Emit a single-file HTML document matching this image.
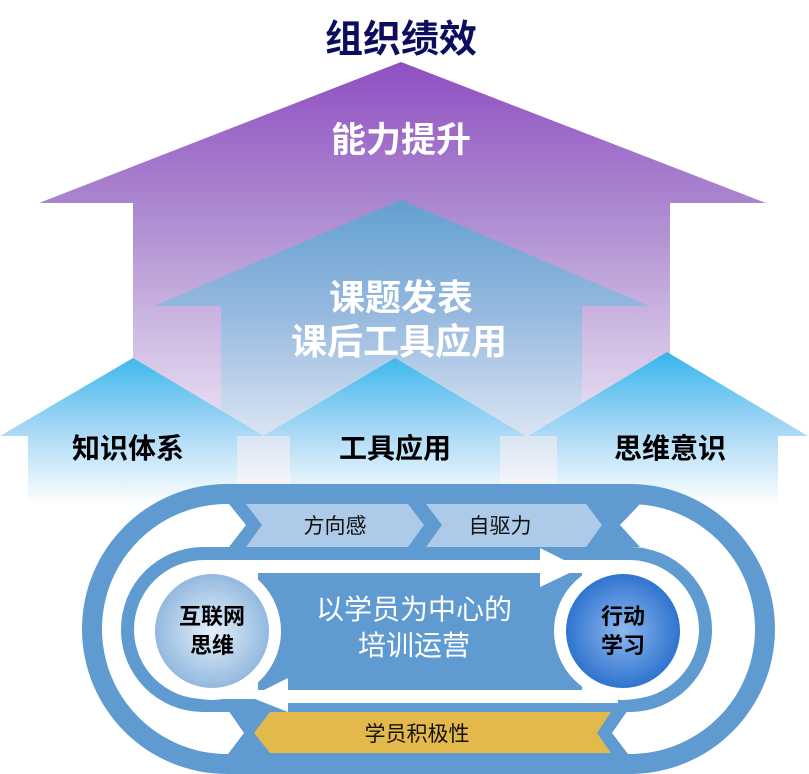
<!DOCTYPE html>
<html><head><meta charset="utf-8"><style>
html,body{margin:0;padding:0;background:#fff;width:809px;height:774px;overflow:hidden}
svg text{font-family:"Liberation Sans","Noto Sans CJK SC",sans-serif}
</style></head><body>
<svg width="809" height="774" viewBox="0 0 809 774" xmlns="http://www.w3.org/2000/svg">
<defs>
<linearGradient id="gp" x1="0" y1="62" x2="0" y2="500" gradientUnits="userSpaceOnUse">
<stop offset="0" stop-color="#8f4fc2"/><stop offset="0.35" stop-color="#ad8bd0"/><stop offset="1" stop-color="#ffffff"/></linearGradient>
<linearGradient id="gb" x1="0" y1="200" x2="0" y2="485" gradientUnits="userSpaceOnUse">
<stop offset="0" stop-color="#62a0d0"/><stop offset="0.4" stop-color="#97b9df"/><stop offset="1" stop-color="#f4f6fb"/></linearGradient>
<linearGradient id="gc" x1="0" y1="355" x2="0" y2="505" gradientUnits="userSpaceOnUse">
<stop offset="0" stop-color="#39b7ec"/><stop offset="0.45" stop-color="#9ed4f4"/><stop offset="1" stop-color="#ffffff"/></linearGradient>
<radialGradient id="cl" cx="0.5" cy="0.5" r="0.5"><stop offset="0" stop-color="#e6f0fa"/><stop offset="1" stop-color="#93b9df"/></radialGradient>
<radialGradient id="cr" cx="0.5" cy="0.5" r="0.5"><stop offset="0" stop-color="#8fb8ee"/><stop offset="1" stop-color="#2f74cf"/></radialGradient>
</defs>
<text x="401" y="52" text-anchor="middle" font-size="38" font-weight="bold" fill="#0d0d5e">组织绩效</text>
<polygon points="401,62 766,203 670,203 670,500 133,500 133,203 39,203" fill="url(#gp)"/>
<text x="401" y="152" text-anchor="middle" font-size="35" font-weight="bold" fill="#fff">能力提升</text>
<polygon points="401,200 649,306 582,306 582,485 221,485 221,306 154,306" fill="url(#gb)"/>
<text x="401" y="310" text-anchor="middle" font-size="36" font-weight="bold" fill="#fff">课题发表</text>
<text x="399" y="354" text-anchor="middle" font-size="36" font-weight="bold" fill="#fff">课后工具应用</text>
<polygon points="133,358 264,436 237,436 237,505 28,505 28,436 0,436" fill="url(#gc)"/>
<polygon points="395,358 526,436 500,436 500,505 290,505 290,436 263,436" fill="url(#gc)"/>
<polygon points="667,352 808,436 778,436 778,505 557,505 557,436 528,436" fill="url(#gc)"/>
<text x="128" y="458" text-anchor="middle" font-size="28" font-weight="bold" fill="#000">知识体系</text>
<text x="395" y="458" text-anchor="middle" font-size="28" font-weight="bold" fill="#000">工具应用</text>
<text x="670" y="458" text-anchor="middle" font-size="28" font-weight="bold" fill="#000">思维意识</text>
<!-- loop -->
<rect x="82" y="484" width="693" height="290" rx="145" fill="#5f9bd0"/>
<rect x="102" y="504" width="653" height="250" rx="125" fill="#fff"/>
<polygon points="229,504 640,504 620,525 640,547 229,547 246,525" fill="#5f9bd0"/>
<polygon points="246,504 408,504 424,525 408,547 246,547 262,525" fill="#adcbe8"/>
<polygon points="426,504 586,504 602,525 586,547 426,547 442,525" fill="#adcbe8"/>
<polygon points="228,710 628,710 612,733 628,754 228,754 244,733" fill="#5f9bd0"/>
<polygon points="270,712 611,712 597,733 611,753 270,753 254,733" fill="#e4b94c"/>
<text x="335" y="533" text-anchor="middle" font-size="21" fill="#111">方向感</text>
<text x="500" y="533" text-anchor="middle" font-size="21" fill="#111">自驱力</text>
<text x="417" y="741" text-anchor="middle" font-size="21" fill="#111">学员积极性</text>
<rect x="121" y="547" width="591" height="165" rx="82" fill="#5f9bd0"/>
<rect x="134" y="560" width="565" height="139" rx="70" fill="#fff"/>
<rect x="258" y="573" width="324" height="117" fill="#5f9bd0"/>
<polygon points="540,548 580,568 540,587" fill="#fff"/>
<rect x="288" y="690" width="330" height="13" fill="#fff"/>
<polygon points="288,678 250,697 288,712" fill="#fff"/>
<circle cx="212" cy="631" r="69" fill="#fff"/>
<circle cx="623" cy="631" r="69" fill="#fff"/>
<circle cx="212" cy="631" r="57" fill="url(#cl)"/>
<circle cx="623" cy="631" r="57" fill="url(#cr)"/>
<text x="212" y="624" text-anchor="middle" font-size="22" font-weight="bold" fill="#000">互联网</text>
<text x="212" y="653" text-anchor="middle" font-size="22" font-weight="bold" fill="#000">思维</text>
<text x="623" y="624" text-anchor="middle" font-size="22" font-weight="bold" fill="#000">行动</text>
<text x="623" y="653" text-anchor="middle" font-size="22" font-weight="bold" fill="#000">学习</text>
<text x="414" y="619" text-anchor="middle" font-size="28" fill="#fff">以学员为中心的</text>
<text x="414" y="655" text-anchor="middle" font-size="28" fill="#fff">培训运营</text>
</svg>
</body></html>
